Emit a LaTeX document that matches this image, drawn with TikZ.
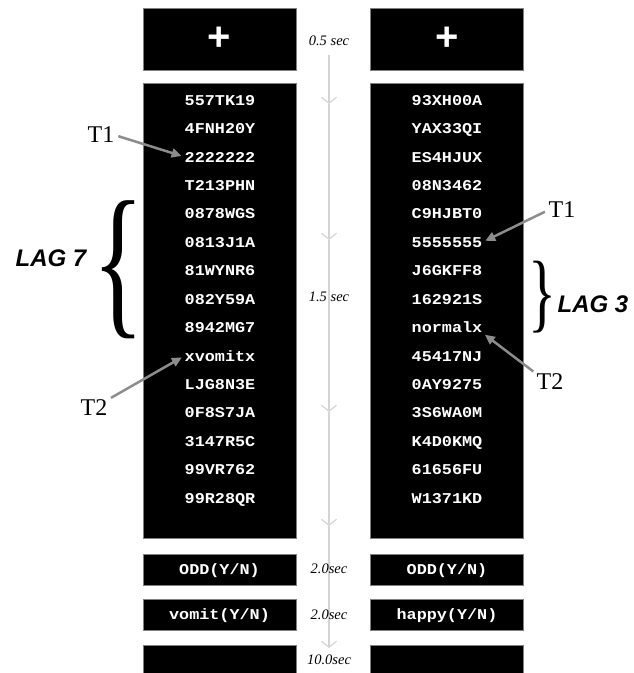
\documentclass[tikz,border=0pt]{standalone}
\usepackage{fontspec}
\setmainfont{Liberation Serif}
\newfontfamily\itemfont[FakeStretch=1.12]{Liberation Mono}
\newfontfamily\lagfont{Liberation Sans}
\usetikzlibrary{arrows.meta, positioning}
\definecolor{pointergray}{HTML}{8C8C8C}
\definecolor{linegray}{HTML}{D4D4D4}

\begin{document}
\begin{tikzpicture}[x=1pt, y=-1pt,
  screen/.style={fill=black, draw=black!50, line width=0.8pt, minimum width=153pt, inner sep=0pt},
  fixation/.style={screen, minimum height=62pt, text=white, font=\lagfont\bfseries\fontsize{40}{40}\selectfont},
  answer/.style={screen, minimum height=31pt, text=white, text height=10.5pt, text depth=0pt, font=\itemfont\bfseries\fontsize{15}{18}\selectfont},
  item/.style={text=white, inner sep=0pt, text height=10.5pt, text depth=0pt, font=\itemfont\bfseries\fontsize{15}{18}\selectfont},
  tag/.style={inner sep=0pt, font=\fontsize{24}{24}\selectfont},
  lag/.style={inner sep=0pt, font=\lagfont\bfseries\itshape\fontsize{24}{24}\selectfont},
  bracket/.style={inner sep=0pt},
  dur/.style={inner sep=0pt, font=\itshape\fontsize{14.5}{15}\selectfont},
  pointer/.style={draw=pointergray, line width=2.5pt, -{Triangle[length=10pt, width=9pt]}, shorten <=4pt, shorten >=3pt},
  timeline/.style={draw=linegray, line width=1.8pt, -{Straight Barb[length=6pt, width=15pt, line width=1.2pt]}}
]
\clip (0,0) rectangle (634,673);

% time line between the two columns
\coordinate (tl0) at (329,55);
\coordinate (tl1) at (329,104);
\coordinate (tl2) at (329,240);
\coordinate (tl3) at (329,412);
\coordinate (tl4) at (329,526);
\coordinate (tl5) at (329,648);
\draw[timeline] (tl0) -- (tl1);
\draw[timeline] (tl1) -- (tl2);
\draw[timeline] (tl2) -- (tl3);
\draw[timeline] (tl3) -- (tl4);
\draw[timeline] (tl4) -- (tl5);

\node[dur] (d1) at (329,41) {0.5 sec};
\node[dur] (d2) at (329,297) {1.5 sec};
\node[dur] (d3) at (329,569) {2.0sec};
\node[dur] (d4) at (329,615) {2.0sec};
\node[dur] (d5) at (329,660) {10.0sec};

% screens
\node[fixation] (fixL) at (219.5,39) {+};
\node[fixation] (fixR) at (447,39) {+};
\node[screen, minimum height=455pt] (listL) at (219.5,310.5) {};
\node[screen, minimum height=455pt] (listR) at (447,310.5) {};
\node[answer] (oddL) at (219.5,569.5) {ODD(Y/N)};
\node[answer] (oddR) at (447,569.5) {ODD(Y/N)};
\node[answer] (probeL) at (219.5,614.5) {vomit(Y/N)};
\node[answer] (probeR) at (447,614.5) {happy(Y/N)};
\node[screen, minimum height=54pt] (blankL) at (219.5,672) {};
\node[screen, minimum height=54pt] (blankR) at (447,672) {};

% word lists
\foreach \w [count=\i] in {557TK19,4FNH20Y,2222222,T213PHN,0878WGS,0813J1A,81WYNR6,082Y59A,8942MG7,xvomitx,LJG8N3E,0F8S7JA,3147R5C,99VR762,99R28QR}
  \node[item] (L\i) at (220,{100+(\i-1)*28.43}) {\w};
\foreach \w [count=\i] in {93XH00A,YAX33QI,ES4HJUX,08N3462,C9HJBT0,5555555,J6GKFF8,162921S,normalx,45417NJ,0AY9275,3S6WA0M,K4D0KMQ,61656FU,W1371KD}
  \node[item] (R\i) at (447,{100+(\i-1)*28.43}) {\w};

% lags
\node[bracket] (braceL) at (119,270) {\resizebox*{52pt}{138pt}{\{}};
\node[bracket] (braceR) at (542.5,297.5) {\resizebox*{28pt}{72pt}{\}}};
\node[lag] (lag7) at (51,258) {LAG 7};
\node[lag] (lag3) at (593,304) {LAG 3};

% targets
\node[tag] (t1L) at (101,135) {T1};
\node[tag] (t2L) at (94,408) {T2};
\node[tag] (t1R) at (562,210) {T1};
\node[tag] (t2R) at (550,382) {T2};
\draw[pointer] (t1L.east) -- (L3.west);
\draw[pointer] (t2L.north east) -- (L10.west);
\draw[pointer] (t1R.west) -- (R6.east);
\draw[pointer] (t2R.north west) -- (R9.south east);
\end{tikzpicture}
\end{document}
